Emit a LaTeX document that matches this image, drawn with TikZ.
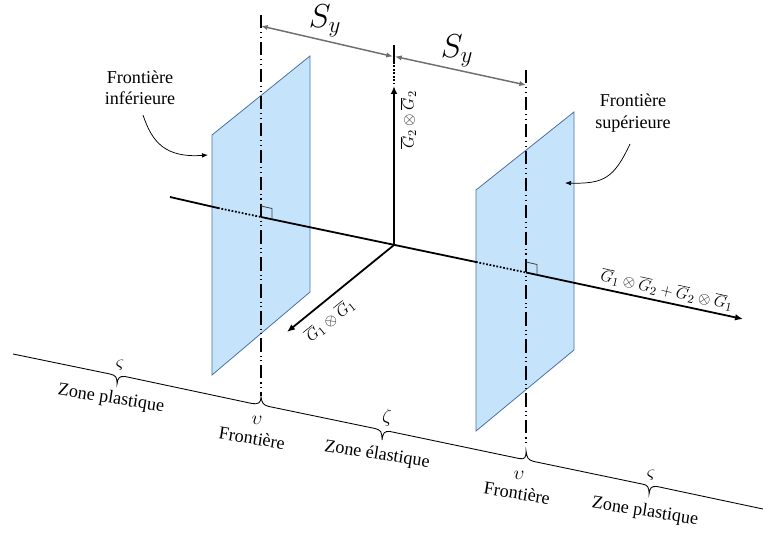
\documentclass[tikz,border=0pt]{standalone}
\usepackage{fontspec}
\setmainfont{Liberation Serif}
\usetikzlibrary{arrows.meta}
\definecolor{planefill}{HTML}{C5E4FB}
\definecolor{planeedge}{HTML}{4A70A8}
\definecolor{dimgray}{HTML}{6E6E6E}
\tikzset{
  plane/.style={draw=planeedge,fill=planefill,line width=0.6pt},
  axisline/.style={line width=1.35pt,-{Latex[length=6pt,width=5pt]}},
  axisplain/.style={line width=1.35pt},
  axisdots/.style={line width=1.35pt,dash pattern=on 1.3pt off 1.3pt},
  guide/.style={line width=0.8pt,dash pattern=on 10pt off 3pt on 0.8pt off 2.6pt on 0.8pt off 3pt},
  dimline/.style={dimgray,line width=1.1pt,{Latex[length=5pt,width=4pt]}-{Latex[length=5pt,width=4pt]}},
  callout/.style={line width=0.55pt,-{Latex[length=4.5pt,width=3.5pt]}},
  scaleline/.style={line width=0.65pt},
  marker/.style={line width=0.6pt,draw=black!75},
  lab/.style={font=\fontsize{13.6}{16}\selectfont,align=center,inner sep=0pt},
  sym/.style={font=\fontsize{14}{16}\selectfont,inner sep=0pt},
  axl/.style={font=\fontsize{13.2}{16}\selectfont,inner sep=0pt},
  big/.style={font=\fontsize{26}{30}\selectfont,inner sep=0pt}
}
\begin{document}
\begin{tikzpicture}[x=0.75pt,y=-0.75pt]
\useasboundingbox (0,0) rectangle (763,534);
% coordinates
\coordinate (O) at (394,245);
\coordinate (Astart) at (170,197);
\coordinate (Aend) at (743,319);
\coordinate (LdotA) at (218,208);
\coordinate (LdotB) at (261,217);
\coordinate (RdotA) at (476,262);
\coordinate (RdotB) at (526,272.5);
\coordinate (Vtip) at (394,86);
\coordinate (Vtop) at (394,45);
\coordinate (Vmid) at (394,62);
\coordinate (Vlow) at (394,84);
\coordinate (Dtip) at (287,332);
\coordinate (GL) at (261,15);
\coordinate (GLb) at (261,396);
\coordinate (GR) at (526,70);
\coordinate (GRb) at (526,443);
% planes
\draw[plane] (212,135) -- (310,56) -- (310,292) -- (212,375) -- cycle;
\draw[plane] (476,190) -- (574,112) -- (574,350) -- (476,431) -- cycle;
% guide lines
\draw[guide] (GL) -- (GLb);
\draw[guide] (GR) -- (GRb);
% axes
\draw[axisplain] (Astart) -- (LdotA);
\draw[axisdots] (LdotA) -- (LdotB);
\draw[axisplain] (LdotB) -- (RdotA);
\draw[axisdots] (RdotA) -- (RdotB);
\draw[axisline] (RdotB) -- (Aend);
\draw[axisline] (O) -- (Vtip);
\draw[axisplain] (Vtop) -- (Vmid);
\draw[axisdots] (Vmid) -- (Vlow);
\draw[axisline] (O) -- (Dtip);
% right-angle marks
\draw[marker] (261,206) -- (272,208.5) -- (272,219);
\draw[marker] (526,262) -- (537,264.5) -- (537,275);
% dimensions
\coordinate (SaL) at (261,26);
\coordinate (SaR) at (393,56.5);
\coordinate (SbL) at (395,56.5);
\coordinate (SbR) at (526,85);
\draw[dimline] (SaL) -- (SaR);
\draw[dimline] (SbL) -- (SbR);
\node[big] (sy1) at (325,21) {$S_y$};
\node[big] (sy2) at (457,51) {$S_y$};
% callouts
\node[lab] (tinf) at (140,88) {Frontière\\inférieure};
\node[lab] (tsup) at (633,113) {Frontière\\supérieure};
\coordinate (Cl) at (143,115);
\coordinate (Cle) at (208,155);
\coordinate (Cr) at (630,144);
\coordinate (Cre) at (565,183);
\draw[callout] (Cl) .. controls (152,142) and (165,158) .. (Cle);
\draw[callout] (Cr) .. controls (614,178) and (604,184) .. (Cre);
% axis labels
\node[axl,rotate=90] (lv) at (408,120) {$\overline{G}_2\otimes\overline{G}_2$};
\node[axl,rotate=39] (ld) at (330,320) {$\overline{G}_1\otimes\overline{G}_1$};
\node[axl,rotate=-12.5] (lr) at (667,290) {$\overline{G}_1\otimes\overline{G}_2+\overline{G}_2\otimes\overline{G}_1$};
% bottom scale with braces
\coordinate (B0) at (13,354);
\coordinate (B1) at (763,509);
\draw[scaleline] (B0) -- (110,374)
  .. controls (116,375.5) and (117,377) .. (117,384)
  .. controls (118,378) and (119,376) .. (125,376.5)
  -- (252,403.5)
  .. controls (258,404.5) and (261,403) .. (261,397)
  .. controls (262,403) and (263,405) .. (269,406.5)
  -- (375,428.5)
  .. controls (381,430) and (382,432) .. (382,440)
  .. controls (383,433) and (384,431) .. (390,431.5)
  -- (519,458.5)
  .. controls (525,459.5) and (526,458) .. (526,451)
  .. controls (527,458) and (528,460) .. (534,461.5)
  -- (642,484)
  .. controls (648,485) and (649,487) .. (649,494)
  .. controls (650,488) and (651,486) .. (657,486.5)
  -- (B1);
\node[sym] (s1) at (120,365) {$\varsigma$};
\node[lab,rotate=-9] (z1) at (111,399) {Zone plastique};
\node[sym] (u1) at (257,420) {$\upsilon$};
\node[lab,rotate=-9] (f1) at (252,438) {Frontière};
\node[sym] (s2) at (387,418) {$\zeta$};
\node[lab,rotate=-9] (z2) at (377,455) {Zone élastique};
\node[sym] (u2) at (519,475) {$\upsilon$};
\node[lab,rotate=-9] (f2) at (517,493) {Frontière};
\node[sym] (s3) at (651,475) {$\varsigma$};
\node[lab,rotate=-9] (z3) at (645,512) {Zone plastique};
\end{tikzpicture}
\end{document}
